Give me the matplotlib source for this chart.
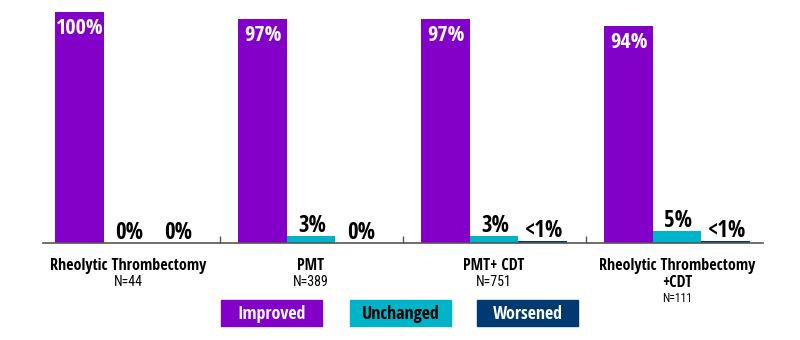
import matplotlib.pyplot as plt
from matplotlib.patches import Rectangle

# data
groups = ['Rheolytic Thrombectomy', 'PMT', 'PMT+ CDT', 'Rheolytic Thrombectomy\n+CDT']
group_n = ['N=44', 'N=389', 'N=751', 'N=111']
series = ['Improved', 'Unchanged', 'Worsened']
improved = [100, 97, 97, 94]
unchanged = [0, 3, 3, 5]
worsened = [0, 0, 1, 1]
improved_lbl = ['100%', '97%', '97%', '94%']
unchanged_lbl = ['0%', '3%', '3%', '5%']
worsened_lbl = ['0%', '0%', '<1%', '<1%']

colors = ['#8200C8', '#00B4C8', '#003A70']
text_colors = ['white', 'black', 'white']

BOLD = dict(family='Open Sans Condensed', fontstretch='condensed', fontweight='bold')
REG = dict(family='Roboto Condensed', fontstretch='condensed', fontweight='normal')
PX = 72 / 100  # points per pixel at 100 dpi

fig = plt.figure(figsize=(8, 3.4), dpi=100)
ax = fig.add_axes([43 / 800, (340 - 243) / 340, 720 / 800, 243 / 340])

w = 0.265
x = list(range(len(groups)))
all_vals = [improved, unchanged, worsened]
all_lbls = [improved_lbl, unchanged_lbl, worsened_lbl]
for i, (vals, lbls) in enumerate(zip(all_vals, all_lbls)):
    xs = [xi + (i - 1) * w for xi in x]
    ax.bar(xs, vals, width=w, color=colors[i], linewidth=0)
    for xv, v, l in zip(xs, vals, lbls):
        if i == 0:
            ax.annotate(l, (xv, v), xytext=(0, -22 * PX), textcoords='offset points',
                        ha='center', va='baseline', color='white', fontsize=16, **BOLD)
        else:
            ax.annotate(l, (xv, v), xytext=(1, 4 * PX), textcoords='offset points',
                        ha='center', va='baseline', color='black', fontsize=16.5, **BOLD)

ax.set_xlim((43 - 128) / 183, (763 - 128) / 183)
ax.set_ylim(0, 100 * 243 / 231)

for s in ['top', 'right', 'left']:
    ax.spines[s].set_visible(False)
ax.spines['bottom'].set_color('#555555')
ax.spines['bottom'].set_linewidth(1.2)
ax.set_yticks([])
ax.set_xticks([0.5, 1.5, 2.5])
ax.set_xticklabels([])
ax.tick_params(axis='x', direction='in', length=5, color='#555555', width=1)

# group labels
for xi, g, n in zip(x, groups, group_n):
    lines = g.split('\n')
    for k, line in enumerate(lines):
        ax.annotate(line, (xi, 0), xycoords=('data', 'axes fraction'),
                    xytext=(0, -(27 + 17 * k) * PX), textcoords='offset points',
                    ha='center', va='baseline', fontsize=11.5, **BOLD)
    if len(lines) == 1:
        n_off, n_size = 43, 10
    else:
        n_off, n_size = 59, 8.5
    ax.annotate(n, (xi, 0), xycoords=('data', 'axes fraction'),
                xytext=(0, -n_off * PX), textcoords='offset points',
                ha='center', va='baseline', fontsize=n_size, **REG)

# legend boxes
box_x = [221, 350, 477]
for bx, lab, c, tc in zip(box_x, series, colors, text_colors):
    fig.patches.append(Rectangle((bx / 800, (340 - 326) / 340), 101 / 800, 26 / 340,
                                 transform=fig.transFigure, color=c, figure=fig))
    fig.text((bx + 50.5) / 800, (340 - 319) / 340, lab, ha='center', va='baseline',
             color=tc, fontsize=13, **BOLD)

fig.savefig('out.png', dpi=100)
